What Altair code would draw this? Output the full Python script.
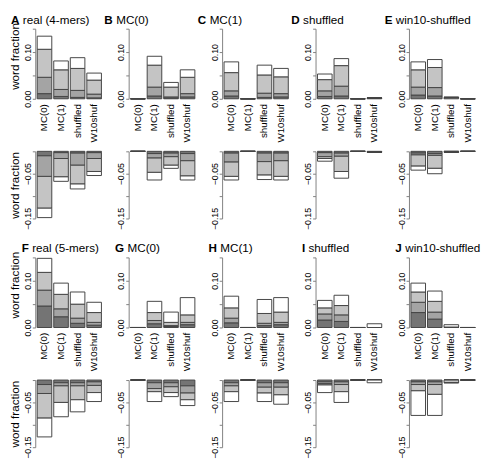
import altair as alt
import pandas as pd

bar_names = ["MC(0)", "MC(1)", "shuffled", "W10shuf"]
panel_letters = ["A", "B", "C", "D", "E", "F", "G", "H", "I", "J"]
panel_titles = ["real (4-mers)", "MC(0)", "MC(1)", "shuffled", "win10-shuffled",
                "real (5-mers)", "MC(0)", "MC(1)", "shuffled", "win10-shuffled"]
levels = ["dark", "medium", "light", "white"]
level_colors = ["#747474", "#a4a4a4", "#c4c4c4", "#ffffff"]

# cumulative tops of the dark, medium, light and white segments, per bar
pos_A = [[0.011, 0.046, 0.106, 0.134], [0.005, 0.020, 0.062, 0.081], [0.003, 0.018, 0.065, 0.088], [0.002, 0.010, 0.040, 0.055]]
neg_A = [[-0.010, -0.056, -0.127, -0.148], [-0.003, -0.016, -0.057, -0.067], [-0.004, -0.031, -0.073, -0.084], [-0.003, -0.016, -0.045, -0.054]]
pos_B = [[0, 0, 0, 0], [0.006, 0.025, 0.072, 0.091], [0.002, 0.004, 0.025, 0.035], [0.004, 0.011, 0.046, 0.062]]
neg_B = [[0, 0, 0, 0], [-0.005, -0.015, -0.047, -0.064], [-0.004, -0.012, -0.031, -0.038], [-0.005, -0.021, -0.055, -0.064]]
pos_C = [[0.006, 0.017, 0.056, 0.079], [0, 0, 0, 0], [0.003, 0.012, 0.051, 0.072], [0.004, 0.011, 0.047, 0.065]]
neg_C = [[-0.004, -0.024, -0.056, -0.064], [0, 0, 0, 0], [-0.004, -0.023, -0.053, -0.063], [-0.004, -0.021, -0.056, -0.064]]
pos_D = [[0.005, 0.017, 0.041, 0.053], [0.006, 0.027, 0.071, 0.086], [0, 0, 0, 0], [0.002, 0.002, 0.002, 0.002]]
neg_D = [[-0.003, -0.012, -0.016, -0.022], [-0.004, -0.011, -0.045, -0.060], [0, 0, 0, 0], [-0.002, -0.002, -0.002, -0.002]]
pos_E = [[0.008, 0.025, 0.062, 0.079], [0.006, 0.024, 0.067, 0.084], [0.003, 0.003, 0.003, 0.003], [0, 0, 0, 0]]
neg_E = [[-0.004, -0.008, -0.033, -0.042], [-0.005, -0.009, -0.038, -0.050], [0, -0.002, -0.002, -0.002], [0, 0, 0, 0]]
pos_F = [[0.046, 0.080, 0.118, 0.148], [0.023, 0.040, 0.071, 0.095], [0.009, 0.020, 0.050, 0.076], [0.005, 0.011, 0.032, 0.054]]
neg_F = [[-0.010, -0.030, -0.085, -0.127], [-0.006, -0.013, -0.050, -0.082], [-0.006, -0.013, -0.044, -0.071], [-0.004, -0.012, -0.028, -0.048]]
pos_G = [[0, 0, 0, 0], [0.008, 0.015, 0.032, 0.056], [0.002, 0.004, 0.011, 0.033], [0.006, 0.011, 0.027, 0.064]]
neg_G = [[0, 0, 0, 0], [-0.006, -0.019, -0.026, -0.048], [-0.006, -0.015, -0.028, -0.037], [-0.013, -0.029, -0.044, -0.057]]
pos_H = [[0.010, 0.020, 0.042, 0.067], [0, 0, 0, 0], [0.004, 0.009, 0.030, 0.060], [0.006, 0.011, 0.033, 0.064]]
neg_H = [[-0.006, -0.013, -0.026, -0.048], [0, 0, 0, 0], [-0.006, -0.016, -0.029, -0.048], [-0.006, -0.016, -0.033, -0.054]]
pos_I = [[0.016, 0.029, 0.042, 0.058], [0.013, 0.027, 0.047, 0.069], [0, 0, 0, 0], [0, 0, 0, 0.008]]
neg_I = [[-0.004, -0.008, -0.011, -0.028], [-0.004, -0.010, -0.026, -0.050], [0, 0, 0, 0], [0, 0, 0, -0.006]]
pos_J = [[0.032, 0.054, 0.076, 0.095], [0.018, 0.033, 0.056, 0.078], [0.001, 0.001, 0.001, 0.006], [0, 0, 0, 0]]
neg_J = [[-0.004, -0.010, -0.024, -0.079], [-0.004, -0.010, -0.032, -0.079], [0, 0, -0.006, -0.006], [0, 0, 0, 0]]

pos_data = [pos_A, pos_B, pos_C, pos_D, pos_E, pos_F, pos_G, pos_H, pos_I, pos_J]
neg_data = [neg_A, neg_B, neg_C, neg_D, neg_E, neg_F, neg_G, neg_H, neg_I, neg_J]

# approximate advance widths of the bold panel letters at 12px
letter_w = {"A": 8.7, "B": 8.7, "C": 8.7, "D": 8.7, "E": 8.0, "F": 7.3, "G": 9.3, "H": 8.7, "I": 3.3, "J": 6.7}

FONT = "Liberation Sans"
W = 70
H_TOP = 72
ROW_SP = 40
GAP = 54
D_OFF = GAP - ROW_SP
H_BOT = 69 + D_OFF
PAD = 2 / 17


def segments(cums):
    rows = []
    for b, cum in zip(bar_names, cums):
        prev = 0.0
        for lv, c in zip(levels, cum):
            rows.append({"bar": b, "level": lv, "y0": prev, "y1": c})
            prev = c
    return pd.DataFrame(rows)


xscale = alt.Scale(domain=bar_names, paddingInner=PAD, paddingOuter=PAD)
fill = alt.Fill("level:N", scale=alt.Scale(domain=levels, range=level_colors), legend=None)


def yaxis(values, expr, title, title_y=None):
    kw = dict(values=values, labelExpr=expr, labelAngle=270, labelAlign="center",
              labelBaseline="bottom", labelFontSize=9, tickSize=3, labelPadding=0,
              labelOverlap=False, labelFlush=False, grid=False,
              titleFontSize=12, titleFontWeight="normal", titlePadding=2)
    if title:
        kw["title"] = title
        if title_y is not None:
            kw["titleY"] = title_y
    else:
        kw["title"] = None
    return alt.Axis(**kw)


top_expr = "abs(datum.value) < 1e-9 || abs(datum.value - 0.1) < 1e-9 ? format(datum.value, '.2f') : ''"
bot_expr = "abs(datum.value + 0.05) < 1e-9 || abs(datum.value + 0.15) < 1e-9 ? format(datum.value, '.2f') : ''"

tops, bots = [], []
for i in range(10):
    row = i // 5
    first = (i % 5) == 0
    letter = panel_letters[i]
    L = -25 if row == 0 else -14
    ty = -5 if row == 0 else -6

    bars_top = alt.Chart(segments(pos_data[i])).mark_bar(stroke="#444444", strokeWidth=1).encode(
        x=alt.X("bar:N", sort=bar_names, scale=xscale,
                axis=alt.Axis(title=None, labelAngle=270, labelAlign="right", labelBaseline="middle",
                              ticks=False, tickSize=0, domain=False, labelPadding=5,
                              labelFontSize=10, labelOverlap=False)),
        y=alt.Y("y0:Q", scale=alt.Scale(domain=[0, 0.15], nice=False, zero=False),
                axis=yaxis([0, 0.05, 0.1, 0.15], top_expr, "word fraction" if first else None, 28)),
        y2="y1:Q",
        fill=fill,
    )
    lab = pd.DataFrame({"t": [letter]})
    letter_mark = alt.Chart(lab).mark_text(align="left", baseline="alphabetic", fontSize=12,
                                           fontWeight="bold", font=FONT, color="black").encode(
        text="t:N", x=alt.value(L), y=alt.value(ty))
    name = pd.DataFrame({"t": [panel_titles[i]]})
    name_mark = alt.Chart(name).mark_text(align="left", baseline="alphabetic", fontSize=12,
                                          font=FONT, color="black").encode(
        text="t:N", x=alt.value(L + letter_w[letter] + 3.5), y=alt.value(ty))
    top = alt.layer(bars_top, letter_mark, name_mark).properties(width=W, height=H_TOP)

    bot = alt.Chart(segments(neg_data[i])).mark_bar(stroke="#444444", strokeWidth=1).encode(
        x=alt.X("bar:N", sort=bar_names, scale=xscale, axis=None),
        y=alt.Y("y0:Q", scale=alt.Scale(domain=[-0.15, 0], range=[H_BOT, D_OFF], nice=False, zero=False),
                axis=yaxis([-0.15, -0.1, -0.05, 0], bot_expr, "word fraction" if first else None)),
        y2="y1:Q",
        fill=fill,
    ).properties(width=W, height=H_BOT)
    tops.append(top)
    bots.append(bot)

cells = tops[:5] + bots[:5] + tops[5:] + bots[5:]

chart = alt.concat(*cells, columns=5, spacing={"row": ROW_SP, "column": 26}, bounds="flush").properties(
    padding={"left": 0, "top": 0, "right": 0, "bottom": 0}
).configure(font=FONT).configure_view(stroke=None).configure_axis(
    labelColor="black", titleColor="black", domainColor="#808080", tickColor="#808080",
    labelFont=FONT, titleFont=FONT
)

chart.save("out.html", embed_options={"renderer": "svg", "actions": False})
